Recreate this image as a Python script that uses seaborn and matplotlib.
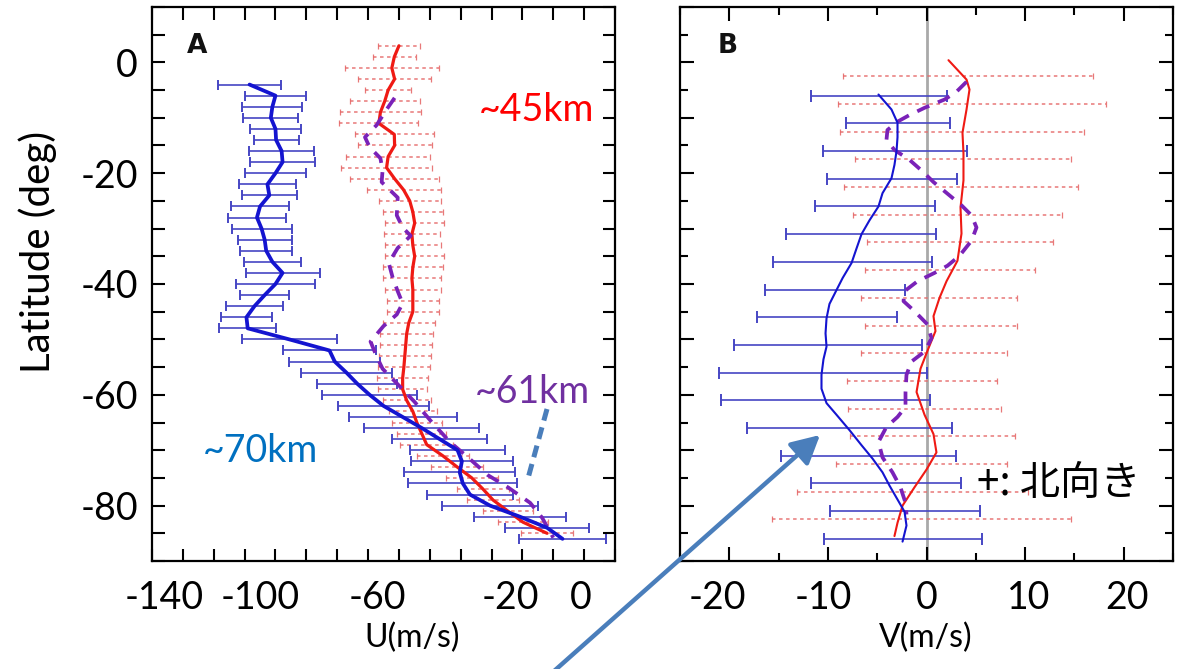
import numpy as np
import matplotlib
matplotlib.use('Agg')
import matplotlib.pyplot as plt
import seaborn as sns
from matplotlib.lines import Line2D
from matplotlib.patches import FancyArrowPatch
from matplotlib.ticker import MultipleLocator, FixedLocator

# ---------------- data ----------------
# Panel A : zonal wind U (m/s)
lat70_a = [-4, -6, -8, -10, -12, -14, -16, -18, -20, -22, -24, -26, -28, -30, -32, -34, -36,
           -38, -40, -42, -44, -46, -48, -50, -52, -54, -56, -58, -60, -62, -64, -66, -68,
           -70, -72, -74, -76, -78, -80, -82, -84, -86]
u70 = [-108.4, -100, -101, -101.5, -100, -99.8, -98, -97.7, -100, -102.6, -102, -105, -106,
       -104.5, -103.5, -103, -101, -97.7, -100, -103.5, -106.8, -109.4, -109, -95.5, -82.5,
       -80.8, -77, -73.5, -69.5, -65, -58.8, -52.6, -46.8, -41, -39.6, -40.3, -39.3, -37,
       -30.5, -20.8, -12, -7]
u70_err = [10.2, 10, 9.7, 8.9, 8.4, 7.3, 10.5, 10.5, 10, 9.3, 9, 9.4, 9.4, 9.7, 8.8, 8.4, 9.3,
           12, 12.7, 8, 9.3, 8.4, 9.3, 15.4, 15, 14.8, 14.8, 13, 15.4, 14.8, 17.5, 18.7, 15.3,
           15.3, 16.4, 18, 17.7, 13.8, 15.4, 15, 13.6, 14]

lat45_a = [3, 1, -1, -3, -5, -7, -9, -11, -13, -15, -17, -19, -21, -23, -25, -27, -29, -31,
           -33, -35, -37, -39, -41, -43, -45, -47, -49, -51, -53, -55, -57, -59, -61, -63,
           -65, -67, -69, -71, -73, -75, -77, -79, -81, -83, -85]
u45 = [-60, -61.5, -62.3, -61.4, -63.5, -64.6, -66, -66.5, -61.5, -61.4, -63.5, -64, -61.4,
       -58.5, -56.5, -55.5, -54.9, -55.8, -55.5, -54.9, -55.5, -55.8, -55.5, -55.5, -55.5,
       -56.8, -57.5, -57.8, -58.1, -58.4, -58.8, -58.8, -57.5, -55.5, -54.2, -52.6, -51,
       -45.8, -41.2, -36.4, -32.8, -29.5, -24.7, -19.8, -12]
u45_err = [6.8, 7, 15.3, 11.7, 7.5, 11.4, 13, 12.8, 12.7, 12, 13.5, 14.8, 14.3, 12, 10, 9.7,
           9.5, 9, 9, 9.5, 9.7, 9.5, 9, 8.5, 8.5, 8.5, 8.5, 8.4, 8.4, 8.5, 8.2, 8, 7.8, 7.8,
           8, 8, 8.5, 8.5, 8.5, 8.4, 8.5, 8.5, 8, 8, 8.4]

lat61_a = [-6.4, -8.5, -11.3, -13.5, -15.3, -17.3, -19.5, -21.6, -24.4, -27.6, -29.8, -31.3,
           -33.5, -36.2, -38.9, -41.3, -43.5, -45.5, -47.6, -50.4, -53.1, -55.3, -58.5,
           -61.3, -64.9, -68.5, -71.6, -74.5, -76.7, -79.5, -82.2, -85.8]
u61 = [-61.4, -64, -67.2, -71, -69.5, -66, -65.3, -65.6, -60.4, -60.7, -58.8, -56.2, -60.4,
       -63.3, -62, -60.4, -58.8, -60.7, -65, -69.2, -67.2, -65.3, -59.7, -54.9, -49.4,
       -43.5, -37, -31.2, -24.7, -17.5, -13.6, -10]

# Panel B : meridional wind V (m/s)
lat70_b_bar = [-6, -11, -16, -21, -26, -31, -36, -41, -46, -51, -56, -61, -66, -71, -76, -81, -86]
v70_bar = [-4.8, -2.9, -3.2, -3.5, -5.2, -6.6, -7.5, -9.3, -10.1, -10, -10.5, -10.2, -7.8,
           -5.9, -4.1, -2.2, -2.4]
v70_err = [6.9, 5.3, 7.3, 6.6, 6.1, 7.6, 8.1, 7.1, 7.1, 9.5, 10.5, 10.6, 10.4, 8.9, 7.6, 7.6, 8.0]

lat70_b = [-5.8, -8.5, -10.9, -13.5, -16, -18.5, -20.9, -23.6, -26, -28.5, -31, -33.6, -36.2,
           -38.9, -41.1, -43.6, -46.2, -48.9, -51.3, -53.6, -56.4, -58.9, -61.5, -63.6,
           -66.4, -69.1, -71.5, -74, -76.4, -78.9, -81.1, -83.6, -86.5]
v70 = [-4.87, -3.55, -2.94, -2.94, -3.04, -3.25, -3.55, -4.46, -4.87, -5.78, -6.59, -7.1,
       -7.6, -8.5, -9.13, -9.84, -10.14, -10.24, -10.14, -10.45, -10.65, -10.65, -10.14,
       -9.13, -7.8, -6.59, -5.48, -4.46, -3.75, -2.94, -2.23, -2.03, -2.43]

lat45_b_bar = [-2.5, -7.5, -12.5, -17.5, -22.5, -27.5, -32.5, -37.5, -42.5, -47.5, -52.5,
               -57.5, -62.5, -67.5, -72.5, -77.5, -82.5]
v45_bar = [4.2, 4.6, 3.6, 3.7, 3.5, 3.1, 3.4, 2.4, 1.3, 1.5, 0.8, -0.5, -0.2, 0.6, -0.5, -1.4, -0.5]
v45_err = [12.7, 13.6, 12.4, 11, 11.9, 10.6, 9.4, 8.6, 7.9, 7.7, 7.4, 7.6, 7.8, 8.4, 8.7, 11.7, 15.2]

lat45_b = [0.4, -3.1, -4.9, -8.5, -12.7, -16.4, -21.3, -26.2, -30.9, -35.8, -39.5, -42.5,
           -45.8, -48.5, -51.6, -55.3, -59.5, -63.6, -67.1, -70.4, -73.5, -76.7, -80, -83.1, -85.5]
v45 = [2.23, 4.06, 4.36, 4.06, 3.65, 3.75, 3.75, 3.45, 3.55, 3.14, 2.03, 1.32, 0.71, 0.91,
       0.2, -0.61, -1.01, -0.2, 0.71, 1.01, 0, -1.22, -2.43, -2.94, -3.25]

lat61_b = [-3.5, -5.3, -6.7, -8.2, -9.5, -10.7, -12.2, -14, -15.8, -17.6, -19.5, -21.6, -24,
           -25.8, -27.6, -29.8, -32.2, -34.9, -36.7, -38, -39.5, -41.3, -43.1, -44.9, -47.3,
           -49.8, -52.2, -54, -56.4, -59.5, -62.2, -64, -65.8, -68.5, -71.3, -74, -76.7,
           -79.5, -81.6]
v61 = [4.06, 3.04, 1.83, -0.2, -1.72, -2.94, -3.96, -4.06, -3.25, -1.72, -0.51, 0.71, 2.33,
       3.55, 4.56, 5.07, 4.56, 3.35, 2.13, 0.81, -0.91, -2.23, -2.33, -1.22, 0.1, 0.51,
       -0.2, -1.52, -2.03, -2.13, -2.13, -2.94, -4.06, -4.87, -4.46, -3.45, -2.64, -2.13, -2.03]

xlabels_a = ['-140', '-100', '-60', '-20', '0']
xlabels_b = ['-20', '-10', '0', '10', '20']
ylabels = ['0', '-20', '-40', '-60', '-80']
ylab_vals = [0, -20, -40, -60, -80]

# ---------------- style ----------------
sns.set_theme(style='ticks')
plt.rcParams['font.family'] = ['Lato', 'Noto Sans CJK JP', 'DejaVu Sans']
plt.rcParams['axes.linewidth'] = 1.6
plt.rcParams['axes.edgecolor'] = 'black'

W, H = 1180, 669
fig = plt.figure(figsize=(11.8, 6.69), dpi=100)
fig.patch.set_facecolor('white')

def fx(x):
    return x / W

def fy(y):
    return 1 - y / H

axA = fig.add_axes([fx(152), fy(561), fx(615) - fx(152), fy(7) - fy(561)])
axB = fig.add_axes([fx(680), fy(561), fx(1173) - fx(680), fy(7) - fy(561)])

BLUE = '#1414d0'
BLUE_EB = '#4646c4'
RED = '#ef1a14'
RED_EB = '#e66a6a'
PURPLE = '#7a22b8'

# ---- panel A ----
eb = axA.errorbar(u45, lat45_a, xerr=u45_err, fmt='none', ecolor=RED_EB, elinewidth=1.1,
                  capsize=2.2, capthick=0.9, alpha=0.9, zorder=1)
eb.lines[2][0].set_linestyle((0, (2.3, 2.3)))
axA.errorbar(u70, lat70_a, xerr=u70_err, fmt='none', ecolor=BLUE_EB, elinewidth=1.2,
             capsize=3.5, capthick=1.4, zorder=2)
sns.lineplot(x=u45, y=lat45_a, sort=False, estimator=None, color=RED, lw=2.3, ax=axA, zorder=3)
sns.lineplot(x=u61, y=lat61_a, sort=False, estimator=None, color=PURPLE, lw=2.7,
             linestyle=(0, (3.5, 2.5)), ax=axA, zorder=4)
sns.lineplot(x=u70, y=lat70_a, sort=False, estimator=None, color=BLUE, lw=2.7, ax=axA, zorder=5)

axA.set_xlim(-140, 10)
axA.set_ylim(-90, 10)

# ---- panel B ----
axB.axvline(0, color='#a9a9a9', lw=2.0, zorder=0.5)
eb = axB.errorbar(v45_bar, lat45_b_bar, xerr=v45_err, fmt='none', ecolor=RED_EB, elinewidth=1.1,
                  capsize=2.2, capthick=0.9, alpha=0.9, zorder=1)
eb.lines[2][0].set_linestyle((0, (2.3, 2.3)))
axB.errorbar(v70_bar, lat70_b_bar, xerr=v70_err, fmt='none', ecolor=BLUE_EB, elinewidth=1.2,
             capsize=4, capthick=1.4, zorder=2)
sns.lineplot(x=v45, y=lat45_b, sort=False, estimator=None, color=RED, lw=1.5, ax=axB, zorder=3)
sns.lineplot(x=v61, y=lat61_b, sort=False, estimator=None, color=PURPLE, lw=2.7,
             linestyle=(0, (3.5, 2.5)), ax=axB, zorder=4)
sns.lineplot(x=v70, y=lat70_b, sort=False, estimator=None, color=BLUE, lw=1.5, ax=axB, zorder=5)

axB.set_xlim(-25, 25)
axB.set_ylim(-90, 10)

for ax in (axA, axB):
    ax.set_xlabel('')
    ax.set_ylabel('')
    for s in ax.spines.values():
        s.set_visible(True)
        s.set_linewidth(1.6)
        s.set_color('black')

# ticks A
axA.xaxis.set_major_locator(MultipleLocator(10))
axA.xaxis.set_minor_locator(FixedLocator([]))
axA.yaxis.set_major_locator(FixedLocator(ylab_vals))
axA.yaxis.set_minor_locator(MultipleLocator(5))
axA.set_yticklabels(ylabels)
axA.tick_params(axis='both', which='both', direction='in', length=9, width=1.5,
                top=True, right=True, bottom=True, left=True, labelbottom=False,
                color='black')
axA.tick_params(axis='y', which='major', labelsize=27, pad=10, labelcolor='black')

secA = axA.secondary_xaxis('bottom')
secA.set_xticks([-136, -105, -67, -24, -1], xlabels_a)
secA.tick_params(length=0, labelsize=27, pad=14, labelcolor='black')
secA.spines['bottom'].set_visible(False)

# ticks B
axB.xaxis.set_major_locator(MultipleLocator(10))
axB.xaxis.set_minor_locator(MultipleLocator(5))
axB.yaxis.set_major_locator(MultipleLocator(10))
axB.yaxis.set_minor_locator(MultipleLocator(5))
axB.tick_params(axis='both', which='major', direction='in', length=10, width=1.5,
                top=True, right=True, bottom=True, left=True, labelbottom=False,
                labelleft=False, color='black')
axB.tick_params(axis='both', which='minor', direction='in', length=5.5, width=1.5,
                top=True, right=True, bottom=True, left=True, color='black')

secB = axB.secondary_xaxis('bottom')
secB.set_xticks([-21.2, -10.5, 0, 10.4, 20.3], xlabels_b)
secB.tick_params(length=0, labelsize=27, pad=14, labelcolor='black')
secB.spines['bottom'].set_visible(False)

# axis labels
fig.text(fx(38), fy(252), 'Latitude (deg)', rotation=90, ha='center', va='center',
         fontsize=29, color='black')
fig.text(fx(412), fy(638), 'U(m/s)', ha='center', va='center', fontsize=23, color='black')
fig.text(fx(926), fy(638), 'V(m/s)', ha='center', va='center', fontsize=23, color='black')

# panel letters
fig.text(fx(197), fy(46), 'A', ha='center', va='center', fontsize=19, fontweight='bold',
         family=['DejaVu Sans'], color='#111111')
fig.text(fx(728), fy(46), 'B', ha='center', va='center', fontsize=19, fontweight='bold',
         family=['DejaVu Sans'], color='#111111')

# annotations
fig.text(fx(536), fy(110), '~45km', ha='center', va='center', fontsize=27, color='#ff0000')
fig.text(fx(532), fy(392), '~61km', ha='center', va='center', fontsize=27, color='#7030a0')
fig.text(fx(260), fy(451), '~70km', ha='center', va='center', fontsize=27, color='#0070c0')
fig.text(fx(1059), fy(483), '+: 北向き', ha='center', va='center', fontsize=29, color='black',
         family=['Noto Sans CJK JP', 'DejaVu Sans'])

fig.add_artist(Line2D([fx(547), fx(527)], [fy(409), fy(482)], transform=fig.transFigure,
                      color='#4a7ebb', lw=3.6, dashes=(2.4, 1.4)))
fig.add_artist(FancyArrowPatch(posA=(fx(553), fy(672)), posB=(fx(820), fy(435)),
                               transform=fig.transFigure,
                               arrowstyle='-|>,head_length=0.95,head_width=0.5',
                               mutation_scale=18, color='#4a7ebb', lw=3.2,
                               shrinkA=0, shrinkB=0))

fig.savefig('out.png', dpi=100, facecolor='white')
